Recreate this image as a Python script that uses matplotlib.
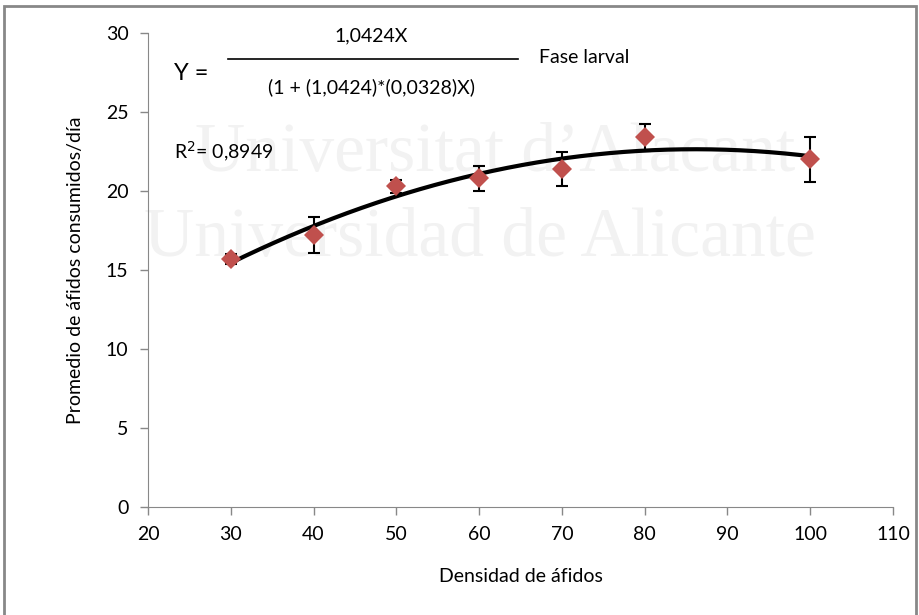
import numpy as np
import matplotlib.pyplot as plt
from matplotlib.patches import Rectangle

# densidad de afidos vs promedio consumido (fase larval)
densidad = [30, 40, 50, 60, 70, 80, 100]
promedio = [15.7, 17.2, 20.3, 20.8, 21.4, 23.4, 22.0]
error = [0.3, 1.15, 0.4, 0.8, 1.1, 0.85, 1.45]

xticks = [20, 30, 40, 50, 60, 70, 80, 90, 100, 110]
yticks = [0, 5, 10, 15, 20, 25, 30]

plt.rcParams['font.family'] = ['Lato', 'DejaVu Sans']

fig = plt.figure(figsize=(9.2, 6.15), dpi=100)
ax = fig.add_axes([0.1609, 0.1756, 0.8098, 0.7707])

# watermark (very faint, behind everything)
ax.text(0.466, 0.745, "Universitat d\u2019Alacant", transform=ax.transAxes,
        ha='center', va='center', fontsize=50, family='Liberation Serif',
        color='#f2f2f2', zorder=0)
ax.text(0.445, 0.565, "Universidad de Alicante", transform=ax.transAxes,
        ha='center', va='center', fontsize=50, family='Liberation Serif',
        color='#f2f2f2', zorder=0)

# trendline (polynomial fit of the data)
coef = np.polyfit(densidad, promedio, 2)
xs = np.linspace(min(densidad), max(densidad), 200)
ax.plot(xs, np.polyval(coef, xs), color='black', lw=3, zorder=3)

ax.errorbar(densidad, promedio, yerr=error, fmt='none', ecolor='black',
            elinewidth=1.5, capsize=4.5, capthick=1.5, zorder=2)
ax.plot(densidad, promedio, 'D', color='#C0504D', markersize=10,
        markeredgewidth=0, zorder=4)

ax.set_xlim(20, 110)
ax.set_ylim(0, 30)
ax.set_xticks(xticks)
ax.set_yticks(yticks)
ax.tick_params(axis='both', labelsize=14, direction='out', length=6,
               color='#888888', width=1, pad=8)
for s in ['top', 'right']:
    ax.spines[s].set_visible(False)
for s in ['left', 'bottom']:
    ax.spines[s].set_color('#888888')

ax.set_xlabel("Densidad de áfidos", fontsize=14, labelpad=18)
ax.set_ylabel("Promedio de áfidos consumidos/día", fontsize=14, labelpad=16)

# equation
ax.text(0.035, 0.915, "Y =", transform=ax.transAxes, fontsize=17,
        ha='left', va='center')
ax.plot([0.107, 0.497], [0.945, 0.945], transform=ax.transAxes,
        color='black', lw=1.2, clip_on=False)
ax.text(0.30, 0.993, "1,0424X", transform=ax.transAxes, fontsize=14,
        ha='center', va='center')
ax.text(0.30, 0.885, "(1 + (1,0424)*(0,0328)X)", transform=ax.transAxes,
        fontsize=14, ha='center', va='center')
ax.text(0.525, 0.948, "Fase larval", transform=ax.transAxes, fontsize=14,
        ha='left', va='center')
ax.text(0.035, 0.75, "R$^2$= 0,8949", transform=ax.transAxes, fontsize=14,
        ha='left', va='center', zorder=5)

fig.patches.append(Rectangle((0.004, -0.01), 0.992, 1.0, transform=fig.transFigure,
                             fill=False, edgecolor='#888888', lw=2))

fig.savefig("out.png", dpi=100)
